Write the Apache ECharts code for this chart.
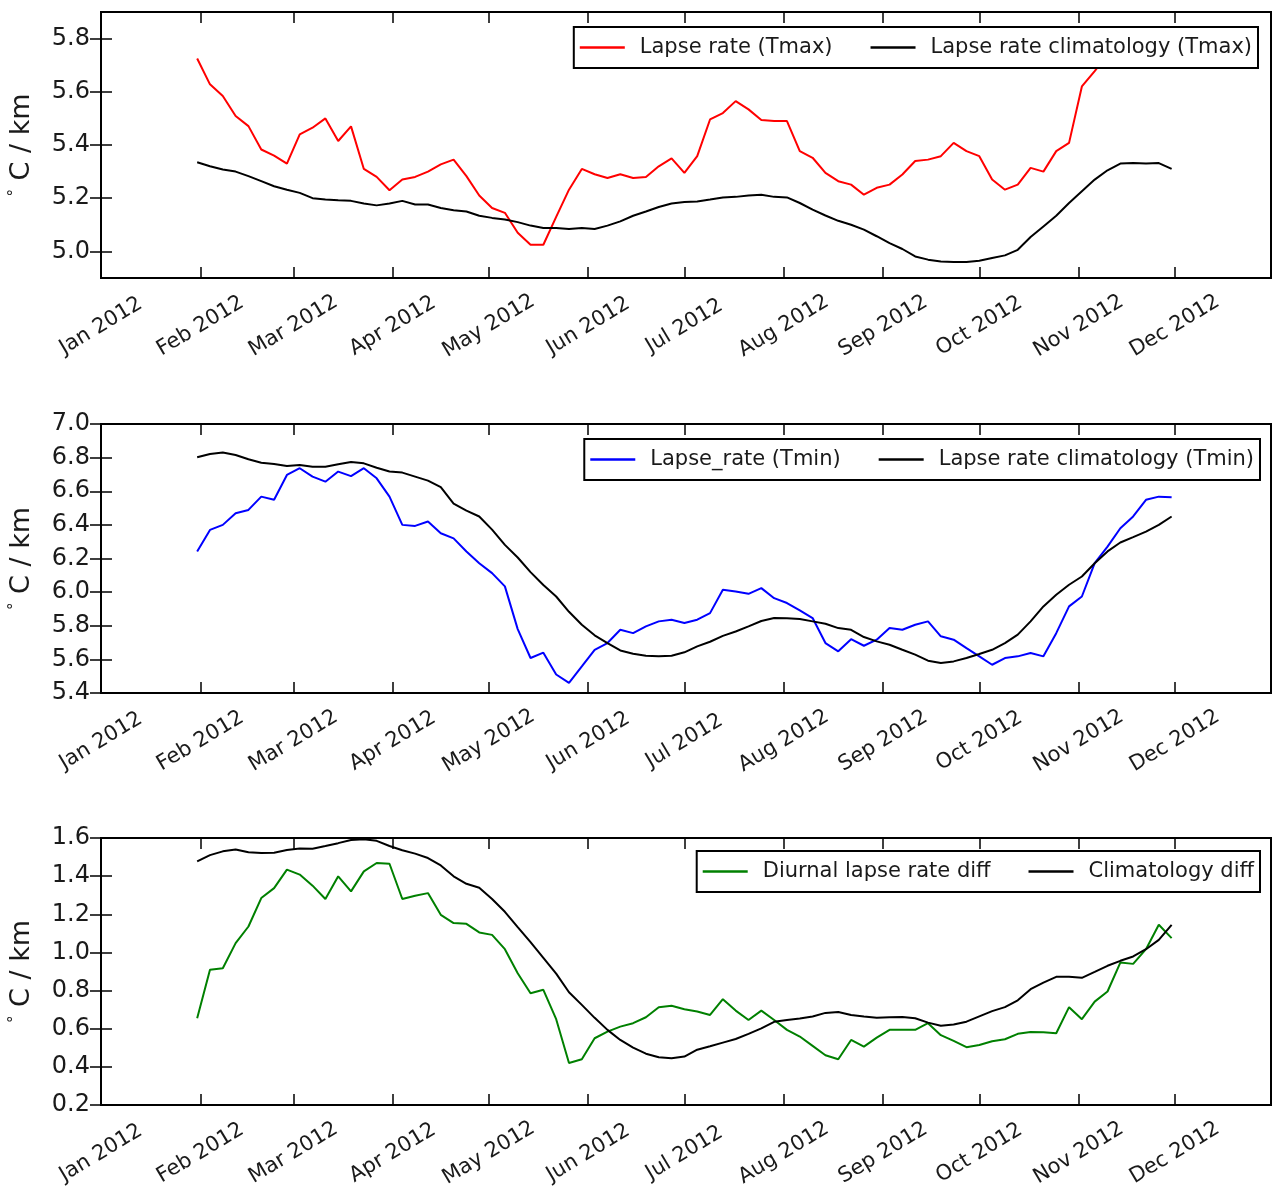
<!DOCTYPE html>
<html>
<head>
<meta charset="utf-8">
<script src="https://cdn.jsdelivr.net/npm/echarts@6/dist/echarts.min.js"></script>
<style>
  html, body { margin: 0; padding: 0; background: #ffffff; }
  #chart { width: 1273px; height: 1189px; }
</style>
</head>
<body>
<div id="chart"></div>
<script>
// Sampling days (days after 1 Jan 2012) shared by all six curves
const DAY_OFFSETS = [30, 34, 38, 42, 46, 50, 54, 58, 62, 66, 70, 74, 78, 82, 86, 90, 94, 98,
  102, 106, 110, 114, 118, 122, 126, 130, 134, 138, 142, 146, 150, 154, 158, 162, 166, 170,
  174, 178, 182, 186, 190, 194, 198, 202, 206, 210, 214, 218, 222, 226, 230, 234, 238, 242,
  246, 250, 254, 258, 262, 266, 270, 274, 278, 282, 286, 290, 294, 298, 302, 306, 310, 314,
  318, 322, 326, 330, 334];

// Panel 1: daytime (Tmax) lapse rate and its climatology, deg C / km
const lapseTmax = [5.725, 5.628, 5.584, 5.509, 5.471, 5.383, 5.36, 5.33, 5.44, 5.465, 5.50, 5.415,
  5.47, 5.31, 5.28, 5.23, 5.27, 5.28,
  5.30, 5.327, 5.345, 5.283, 5.21, 5.163, 5.145, 5.07, 5.025, 5.025, 5.13, 5.232, 5.31, 5.29,
  5.276, 5.29, 5.276, 5.28, 5.32, 5.35, 5.295, 5.358, 5.496, 5.52, 5.565, 5.534, 5.494, 5.49,
  5.49, 5.377, 5.352, 5.295, 5.264,
  5.251, 5.213, 5.239, 5.251, 5.289, 5.34, 5.345, 5.358, 5.408, 5.377, 5.358, 5.27, 5.232,
  5.251, 5.314, 5.30, 5.377, 5.408, 5.62, 5.678, 5.74, 5.79, 5.81, 5.80, 5.79, 5.80];
const climTmax = [5.335, 5.32, 5.308, 5.30, 5.283, 5.264, 5.245, 5.232, 5.22, 5.20, 5.195, 5.192,
  5.19, 5.18, 5.173, 5.18, 5.19, 5.176,
  5.176, 5.163, 5.155, 5.15, 5.134, 5.126, 5.12, 5.11, 5.097, 5.088, 5.088, 5.084, 5.088, 5.084,
  5.097, 5.113, 5.134, 5.15, 5.167, 5.18, 5.186, 5.188, 5.195, 5.203, 5.205, 5.21, 5.213, 5.205,
  5.203, 5.182, 5.157, 5.135, 5.115,
  5.10, 5.082, 5.057, 5.031, 5.009, 4.981, 4.969, 4.962, 4.96, 4.96, 4.965, 4.975, 4.985,
  5.006, 5.054, 5.094, 5.134, 5.182, 5.226, 5.27, 5.305, 5.33, 5.332, 5.33, 5.332, 5.31];

// Panel 2: night-time (Tmin) lapse rate and its climatology
const lapseTmin = [6.242, 6.37, 6.40, 6.469, 6.489, 6.568, 6.549, 6.697, 6.737, 6.687, 6.657, 6.717,
  6.69, 6.737, 6.677, 6.568, 6.40, 6.394,
  6.42, 6.35, 6.32, 6.242, 6.172, 6.113, 6.034, 5.78, 5.608, 5.64, 5.51, 5.46, 5.558, 5.657,
  5.697, 5.776, 5.756, 5.796, 5.826, 5.836, 5.816, 5.836, 5.875, 6.014, 6.004, 5.99, 6.024,
  5.964, 5.935, 5.891, 5.846, 5.697, 5.648,
  5.72, 5.681, 5.717, 5.786, 5.776, 5.806, 5.826, 5.737, 5.717, 5.667, 5.618, 5.568, 5.608,
  5.618, 5.638, 5.618, 5.756, 5.915, 5.974, 6.172, 6.271, 6.38, 6.45, 6.549, 6.568, 6.564];
const climTmin = [6.802, 6.822, 6.83, 6.816, 6.79, 6.77, 6.762, 6.75, 6.756, 6.746, 6.746, 6.76,
  6.774, 6.766, 6.74, 6.717, 6.711, 6.687,
  6.663, 6.624, 6.527, 6.485, 6.45, 6.372, 6.281, 6.206, 6.119, 6.042, 5.974, 5.883, 5.806,
  5.743, 5.697, 5.653, 5.634, 5.622, 5.618, 5.622, 5.642, 5.677, 5.705, 5.74, 5.766, 5.796,
  5.828, 5.846, 5.844, 5.84, 5.826, 5.812, 5.786,
  5.776, 5.733, 5.707, 5.687, 5.657, 5.628, 5.592, 5.578, 5.588, 5.608, 5.632, 5.657, 5.697,
  5.747, 5.826, 5.915, 5.984, 6.044, 6.093, 6.172, 6.242, 6.295, 6.327, 6.36, 6.40, 6.45];

// Panel 3: diurnal difference of the lapse rate and of the climatology
const diurnalDiff = [0.655, 0.909, 0.917, 1.049, 1.136, 1.285, 1.337, 1.434, 1.408, 1.35, 1.28, 1.399,
  1.32, 1.425, 1.469, 1.465, 1.28, 1.297,
  1.311, 1.197, 1.154, 1.15, 1.105, 1.092, 1.017, 0.891, 0.786, 0.804, 0.65, 0.42, 0.44, 0.55,
  0.585, 0.611, 0.629, 0.66, 0.713, 0.72, 0.702, 0.69, 0.672, 0.755, 0.695, 0.646, 0.695, 0.646,
  0.594, 0.559, 0.51, 0.461, 0.44,
  0.541, 0.506, 0.553, 0.594, 0.594, 0.594, 0.629, 0.566, 0.536, 0.503, 0.515, 0.534, 0.545,
  0.573, 0.583, 0.581, 0.576, 0.713, 0.65, 0.742, 0.795, 0.947, 0.94, 1.017, 1.145, 1.075];
const climDiff = [1.477, 1.51, 1.53, 1.54, 1.525, 1.521, 1.523, 1.537, 1.545, 1.544, 1.558, 1.573,
  1.59, 1.594, 1.585, 1.558, 1.536, 1.518,
  1.495, 1.456, 1.399, 1.36, 1.339, 1.28, 1.213, 1.133, 1.054, 0.972, 0.889, 0.791, 0.725,
  0.657, 0.594, 0.541, 0.501, 0.469, 0.45, 0.445, 0.454, 0.49, 0.508, 0.527, 0.546, 0.573,
  0.602, 0.636, 0.646, 0.653, 0.664, 0.683, 0.688,
  0.672, 0.664, 0.658, 0.66, 0.662, 0.655, 0.632, 0.616, 0.622, 0.637, 0.665, 0.692, 0.713,
  0.749, 0.807, 0.842, 0.872, 0.872, 0.867, 0.898, 0.93, 0.956, 0.979, 1.017, 1.066, 1.145];

// Axis ticks
const MONTH_STARTS = ['2012-01-01', '2012-02-01', '2012-03-01', '2012-04-01', '2012-05-01',
  '2012-06-01', '2012-07-01', '2012-08-01', '2012-09-01', '2012-10-01', '2012-11-01', '2012-12-01'];
const MONTH_LABELS = ['Jan 2012', 'Feb 2012', 'Mar 2012', 'Apr 2012', 'May 2012', 'Jun 2012',
  'Jul 2012', 'Aug 2012', 'Sep 2012', 'Oct 2012', 'Nov 2012', 'Dec 2012'];
const Y_TICKS_TMAX = [5.0, 5.2, 5.4, 5.6, 5.8];
const Y_TICKS_TMIN = [5.4, 5.6, 5.8, 6.0, 6.2, 6.4, 6.6, 6.8, 7.0];
const Y_TICKS_DIFF = [0.2, 0.4, 0.6, 0.8, 1.0, 1.2, 1.4, 1.6];

// The x axis runs in days after 1 Jan 2012, through 31 Dec 2012
const DAY_MS = 86400000;
const T0 = Date.parse('2012-01-01');
const X_MAX = (Date.parse('2012-12-31') - T0) / DAY_MS;
const monthTicks = MONTH_STARTS.map(s => Math.round((Date.parse(s) - T0) / DAY_MS));
const monthLabel = v => {
  const k = monthTicks.indexOf(Math.round(v));
  return k >= 0 ? MONTH_LABELS[k] : '';
};
const pairs = vals => DAY_OFFSETS.map((d, i) => [d, vals[i]]);

const FONT = 'DejaVu Sans';
const INK = '#1a1a1a';

const panels = [
  { top: 12, height: 266, min: 4.9, max: 5.9, ticks: Y_TICKS_TMAX, legendTop: 27, legendRight: 15,
    lines: [
      { name: 'Lapse rate (Tmax)', color: '#ff0000', data: lapseTmax },
      { name: 'Lapse rate climatology (Tmax)', color: '#000000', data: climTmax }
    ] },
  { top: 424, height: 269, min: 5.4, max: 7.0, ticks: Y_TICKS_TMIN, legendTop: 439, legendRight: 13,
    lines: [
      { name: 'Lapse_rate (Tmin)', color: '#0000ff', data: lapseTmin },
      { name: 'Lapse rate climatology (Tmin)', color: '#000000', data: climTmin }
    ] },
  { top: 838, height: 267, min: 0.2, max: 1.6, ticks: Y_TICKS_DIFF, legendTop: 851, legendRight: 13,
    lines: [
      { name: 'Diurnal lapse rate diff', color: '#008000', data: diurnalDiff },
      { name: 'Climatology diff', color: '#000000', data: climDiff }
    ] }
];

const tickStyle = () => ({ show: true, inside: true, length: 11, lineStyle: { color: '#000', width: 1.5 } });

const option = {
  animation: false,
  backgroundColor: '#ffffff',
  grid: [], xAxis: [], yAxis: [], legend: [], series: []
};

panels.forEach((p, i) => {
  option.grid.push({
    left: 101, top: p.top, width: 1170, height: p.height,
    show: true, borderColor: '#000', borderWidth: 2, backgroundColor: 'transparent',
    containLabel: false, outerBoundsMode: 'none'
  });
  // bottom axis with month labels
  option.xAxis.push({
    gridIndex: i, type: 'value', position: 'bottom', min: 0, max: X_MAX,
    axisLine: { show: false },
    axisTick: Object.assign(tickStyle(), { customValues: monthTicks }),
    axisLabel: {
      customValues: monthTicks, rotate: 31, align: 'center', verticalAlign: 'middle', margin: 48,
      fontFamily: FONT, fontSize: 21, color: INK, formatter: monthLabel
    },
    splitLine: { show: false }
  });
  // top axis: tick marks only
  option.xAxis.push({
    gridIndex: i, type: 'value', position: 'top', min: 0, max: X_MAX,
    axisLine: { show: false },
    axisTick: Object.assign(tickStyle(), { customValues: monthTicks }),
    axisLabel: { show: false },
    splitLine: { show: false }
  });
  option.yAxis.push({
    gridIndex: i, type: 'value', position: 'left', min: p.min, max: p.max,
    axisLine: { show: false },
    axisTick: Object.assign(tickStyle(), { customValues: p.ticks }),
    axisLabel: {
      customValues: p.ticks, margin: 11, fontFamily: FONT, fontSize: 24, color: INK,
      formatter: v => v.toFixed(1)
    },
    splitLine: { show: false },
    name: '{deg|°} C / km', nameLocation: 'middle', nameGap: 66,
    nameTextStyle: {
      fontFamily: FONT, fontSize: 27, color: INK,
      rich: { deg: { fontFamily: FONT, fontSize: 15, color: INK, verticalAlign: 'top' } }
    }
  });
  // right axis: tick marks only
  option.yAxis.push({
    gridIndex: i, type: 'value', position: 'right', min: p.min, max: p.max,
    axisLine: { show: false },
    axisTick: Object.assign(tickStyle(), { customValues: p.ticks }),
    axisLabel: { show: false },
    splitLine: { show: false }
  });
  option.legend.push({
    data: p.lines.map(l => l.name),
    right: p.legendRight, top: p.legendTop, orient: 'horizontal',
    selectedMode: false,
    icon: 'rect', itemWidth: 45, itemHeight: 2.5, itemGap: 38,
    backgroundColor: '#ffffff', borderColor: '#000', borderWidth: 2, borderRadius: 0,
    padding: [8, 6, 8, 6],
    textStyle: { fontFamily: FONT, fontSize: 21, color: INK, lineHeight: 25, padding: [0, 0, 0, 10] }
  });
  p.lines.forEach(l => {
    option.series.push({
      name: l.name, type: 'line',
      xAxisIndex: 2 * i, yAxisIndex: 2 * i,
      data: pairs(l.data),
      symbol: 'none', showSymbol: false, smooth: false,
      lineStyle: { color: l.color, width: 2 },
      itemStyle: { color: l.color },
      silent: true, clip: true
    });
  });
});

const chart = echarts.init(document.getElementById('chart'), null, { renderer: 'canvas' });
chart.setOption(option);
</script>
</body>
</html>
